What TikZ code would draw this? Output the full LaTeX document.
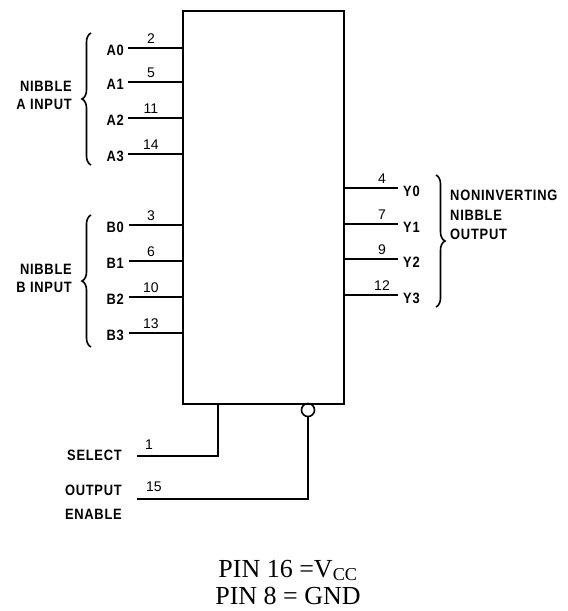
\documentclass[tikz,border=0pt]{standalone}
\usepackage{fontspec}
\setmainfont{Liberation Serif}
\newfontfamily\labfont[FakeStretch=0.86, LetterSpace=5]{Liberation Sans}
\newfontfamily\numfont{Liberation Sans}
\usetikzlibrary{decorations.pathreplacing}
\tikzset{
  wire/.style={line width=1.8pt},
  lab/.style={font=\labfont\bfseries\fontsize{15}{18}\selectfont, inner sep=0pt},
  pinnum/.style={font=\numfont\fontsize{14}{16}\selectfont, inner sep=0pt},
  grp/.style={font=\labfont\bfseries\fontsize{15}{19.5}\selectfont, inner sep=0pt, align=left},
  grpr/.style={font=\labfont\bfseries\fontsize{15}{18}\selectfont, inner sep=0pt, align=right},
  bracestyle/.style={line width=1.6pt, decorate, decoration={brace, amplitude=9pt}},
  note/.style={font=\fontsize{26}{27}\selectfont, inner sep=0pt, align=center}
}
\begin{document}
\begin{tikzpicture}[x=1pt,y=-1pt]
\useasboundingbox (0,0) rectangle (568,611);
% chip body
\node (ic) [draw, line width=1.8pt, minimum width=161pt, minimum height=393pt, anchor=north west, inner sep=0pt] at (182,10) {};
% A inputs
\foreach \n/\y/\p in {0/48/2, 1/82/5, 2/118/11, 3/154/14} {
  \coordinate (a\n) at (128,\y);
  \coordinate (ai\n) at (182,\y);
  \node (al\n) [lab, anchor=east] at (124,\y+2) {A\n};
  \node (an\n) [pinnum, anchor=south] at (151,\y-4) {\p};
  \draw[wire] (a\n) -- (ai\n);
}
% B inputs
\foreach \n/\y/\p in {0/225/3, 1/261/6, 2/297/10, 3/333/13} {
  \coordinate (b\n) at (129,\y);
  \coordinate (bi\n) at (182,\y);
  \node (bl\n) [lab, anchor=east] at (124,\y+2) {B\n};
  \node (bn\n) [pinnum, anchor=south] at (151,\y-4) {\p};
  \draw[wire] (b\n) -- (bi\n);
}
% Y outputs
\foreach \n/\y/\p in {0/188/4, 1/224/7, 2/259/9, 3/295/12} {
  \coordinate (yo\n) at (343,\y);
  \coordinate (y\n) at (398,\y);
  \node (yl\n) [lab, anchor=west] at (403,\y+3) {Y\n};
  \node (yn\n) [pinnum, anchor=south] at (382,\y-4) {\p};
  \draw[wire] (yo\n) -- (y\n);
}
% braces
\coordinate (ba1) at (91,165); \coordinate (ba2) at (91,33);
\draw[bracestyle] (ba1) -- (ba2);
\coordinate (bb1) at (91,347); \coordinate (bb2) at (91,215);
\draw[bracestyle] (bb1) -- (bb2);
\coordinate (by1) at (436,175); \coordinate (by2) at (436,307);
\draw[bracestyle] (by1) -- (by2);
% group labels
\node (ga) [grpr, anchor=east] at (72,95) {NIBBLE\\A INPUT};
\node (gb) [grpr, anchor=east] at (72,278) {NIBBLE\\B INPUT};
\node (gy) [grp, anchor=west] at (450,215) {NONINVERTING\\NIBBLE\\OUTPUT};
% select
\coordinate (s0) at (218,403);
\coordinate (s1) at (218,456);
\coordinate (s2) at (137,456);
\draw[wire] (s0) -- (s1) -- (s2);
\node (sl) [lab, anchor=east] at (122,455) {SELECT};
\node (sn) [pinnum, anchor=south] at (149,450) {1};
% output enable
\node (oe) [draw, circle, line width=1.6pt, minimum size=13pt, inner sep=0pt] at (308,410) {};
\coordinate (o1) at (308,499);
\coordinate (o2) at (137,499);
\draw[wire] (oe.south) -- (o1) -- (o2);
\node (ol1) [lab, anchor=east] at (122,490) {OUTPUT};
\node (ol2) [lab, anchor=east] at (122,514) {ENABLE};
\node (on) [pinnum, anchor=south] at (154,492) {15};
% notes
\node (notes) [note, anchor=base] at (288,604) {PIN 16 =V\textsubscript{CC}\\PIN 8 = GND};
\end{tikzpicture}
\end{document}
